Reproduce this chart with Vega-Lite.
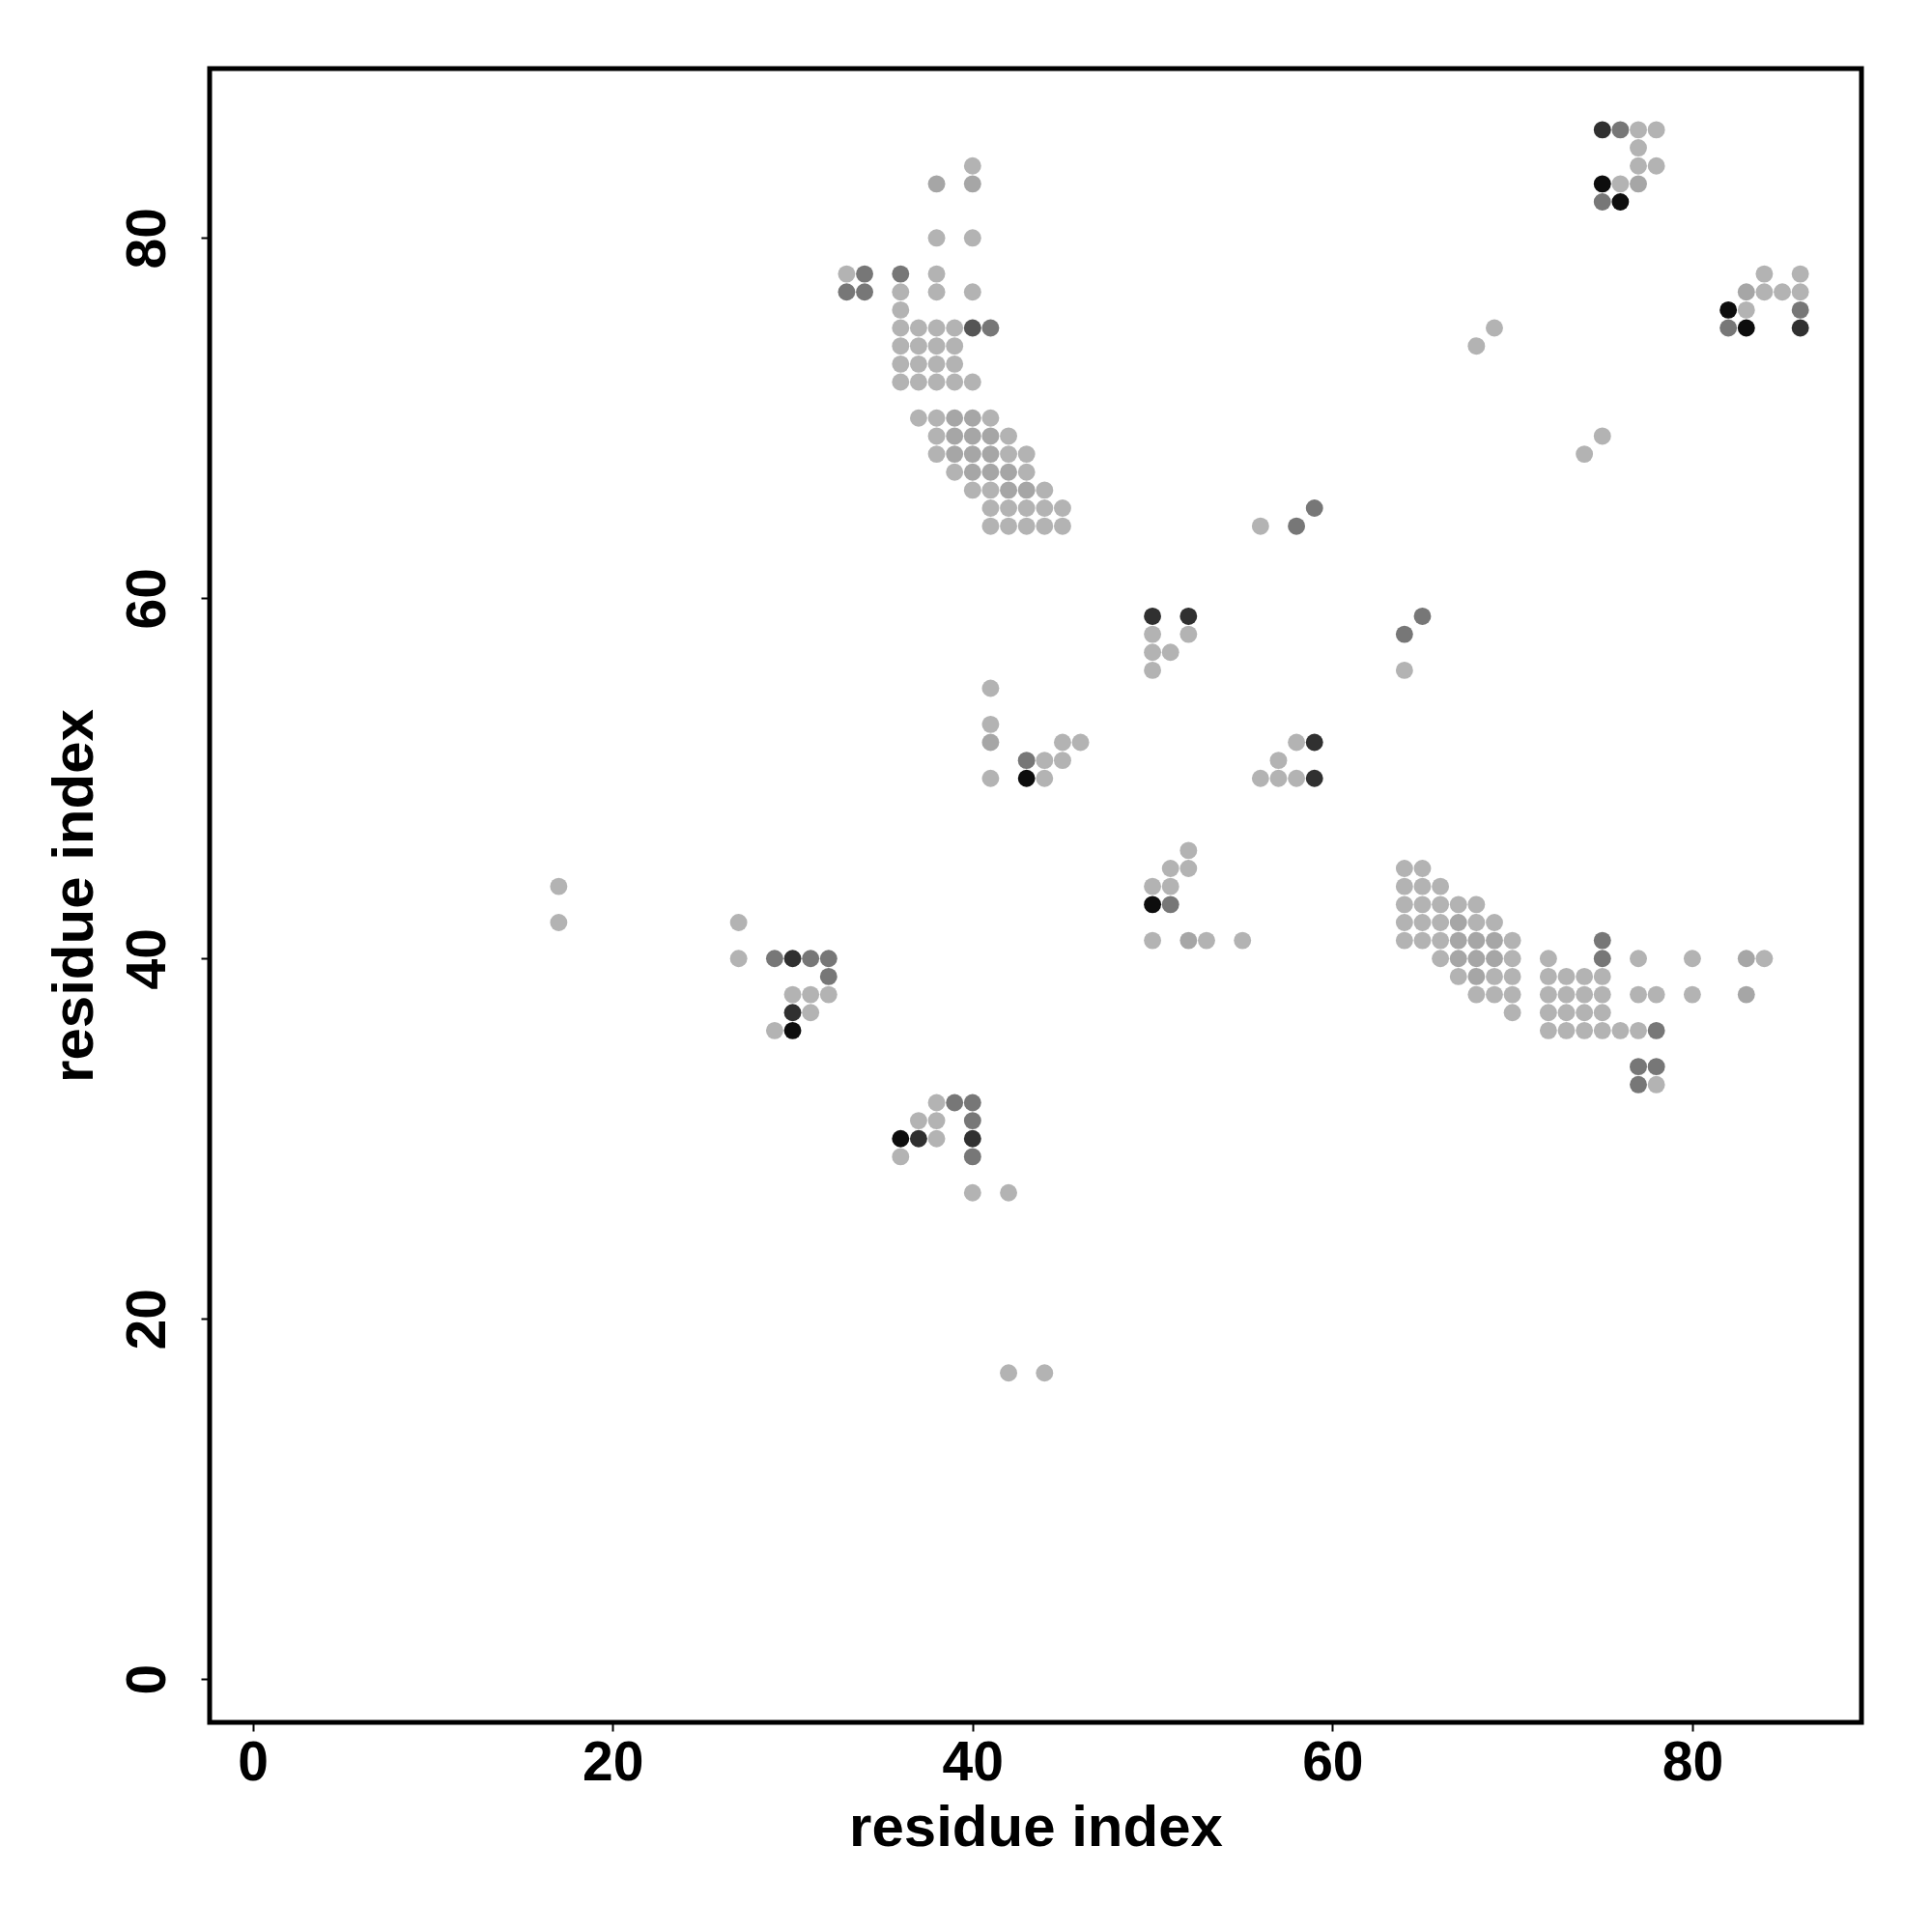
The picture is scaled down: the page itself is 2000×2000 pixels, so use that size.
{
  "$schema": "https://vega.github.io/schema/vega-lite/v6.json",
  "autosize": {"type": "none"},
  "padding": {"left": 217, "top": 71, "right": 73, "bottom": 217},
  "width": 1710,
  "height": 1712,
  "background": "white",
  "config": {
    "view": {"stroke": "black", "strokeWidth": 5, "fill": "white"},
    "axis": {
      "grid": false,
      "domain": false,
      "tickColor": "black",
      "tickWidth": 2,
      "tickSize": 9,
      "labelFont": "Liberation Sans",
      "labelFontWeight": "bold",
      "labelFontSize": 57,
      "labelColor": "black",
      "titleFont": "Liberation Sans",
      "titleFontWeight": "bold",
      "titleFontSize": 60,
      "titleColor": "black"
    }
  },
  "data": {
    "values": [
      {"x":40,"y":84,"s":1},
      {"x":38,"y":83,"s":2},{"x":40,"y":83,"s":2},
      {"x":38,"y":80,"s":1},{"x":40,"y":80,"s":1},
      {"x":33,"y":78,"s":1},{"x":34,"y":78,"s":3},{"x":36,"y":78,"s":3},{"x":38,"y":78,"s":1},
      {"x":33,"y":77,"s":3},{"x":34,"y":77,"s":3},{"x":36,"y":77,"s":1},{"x":38,"y":77,"s":1},{"x":40,"y":77,"s":1},
      {"x":36,"y":76,"s":1},
      {"x":36,"y":75,"s":1},{"x":37,"y":75,"s":1},{"x":38,"y":75,"s":1},{"x":39,"y":75,"s":1},{"x":40,"y":75,"s":4},{"x":41,"y":75,"s":3},
      {"x":36,"y":74,"s":1},{"x":37,"y":74,"s":1},{"x":38,"y":74,"s":1},{"x":39,"y":74,"s":1},
      {"x":36,"y":73,"s":1},{"x":37,"y":73,"s":1},{"x":38,"y":73,"s":1},{"x":39,"y":73,"s":1},
      {"x":36,"y":72,"s":1},{"x":37,"y":72,"s":1},{"x":38,"y":72,"s":1},{"x":39,"y":72,"s":1},{"x":40,"y":72,"s":1},
      {"x":37,"y":70,"s":1},{"x":38,"y":70,"s":1},{"x":39,"y":70,"s":2},{"x":40,"y":70,"s":2},{"x":41,"y":70,"s":1},
      {"x":38,"y":69,"s":1},{"x":39,"y":69,"s":2},{"x":40,"y":69,"s":2},{"x":41,"y":69,"s":2},{"x":42,"y":69,"s":1},
      {"x":38,"y":68,"s":1},{"x":39,"y":68,"s":2},{"x":40,"y":68,"s":2},{"x":41,"y":68,"s":2},{"x":42,"y":68,"s":1},{"x":43,"y":68,"s":1},
      {"x":39,"y":67,"s":1},{"x":40,"y":67,"s":2},{"x":41,"y":67,"s":2},{"x":42,"y":67,"s":2},{"x":43,"y":67,"s":1},
      {"x":40,"y":66,"s":1},{"x":41,"y":66,"s":1},{"x":42,"y":66,"s":2},{"x":43,"y":66,"s":2},{"x":44,"y":66,"s":1},
      {"x":41,"y":65,"s":1},{"x":42,"y":65,"s":1},{"x":43,"y":65,"s":1},{"x":44,"y":65,"s":1},{"x":45,"y":65,"s":1},
      {"x":41,"y":64,"s":1},{"x":42,"y":64,"s":1},{"x":43,"y":64,"s":1},{"x":44,"y":64,"s":1},{"x":45,"y":64,"s":1},
      {"x":75,"y":86,"s":5},{"x":76,"y":86,"s":3},{"x":77,"y":86,"s":1},{"x":78,"y":86,"s":1},
      {"x":77,"y":85,"s":1},
      {"x":77,"y":84,"s":1},{"x":78,"y":84,"s":1},
      {"x":75,"y":83,"s":6},{"x":76,"y":83,"s":1},{"x":77,"y":83,"s":2},
      {"x":75,"y":82,"s":3},{"x":76,"y":82,"s":6},
      {"x":84,"y":78,"s":1},{"x":86,"y":78,"s":1},
      {"x":83,"y":77,"s":2},{"x":84,"y":77,"s":1},{"x":85,"y":77,"s":1},{"x":86,"y":77,"s":1},
      {"x":82,"y":76,"s":6},{"x":83,"y":76,"s":1},{"x":86,"y":76,"s":3},
      {"x":82,"y":75,"s":3},{"x":83,"y":75,"s":6},{"x":86,"y":75,"s":5},
      {"x":68,"y":74,"s":1},{"x":69,"y":75,"s":1},
      {"x":74,"y":68,"s":1},{"x":75,"y":69,"s":1},
      {"x":56,"y":64,"s":1},{"x":58,"y":64,"s":3},{"x":59,"y":65,"s":3},
      {"x":50,"y":59,"s":5},{"x":52,"y":59,"s":5},
      {"x":50,"y":58,"s":1},{"x":52,"y":58,"s":1},
      {"x":50,"y":57,"s":1},{"x":51,"y":57,"s":1},
      {"x":50,"y":56,"s":1},
      {"x":64,"y":58,"s":3},{"x":65,"y":59,"s":3},{"x":64,"y":56,"s":1},
      {"x":58,"y":52,"s":1},{"x":59,"y":52,"s":5},
      {"x":57,"y":51,"s":1},
      {"x":56,"y":50,"s":1},{"x":57,"y":50,"s":1},{"x":58,"y":50,"s":1},{"x":59,"y":50,"s":5},
      {"x":41,"y":55,"s":1},{"x":41,"y":53,"s":1},{"x":41,"y":52,"s":2},
      {"x":43,"y":51,"s":3},{"x":44,"y":51,"s":1},{"x":45,"y":51,"s":1},
      {"x":45,"y":52,"s":1},{"x":46,"y":52,"s":1},
      {"x":41,"y":50,"s":1},{"x":43,"y":50,"s":6},{"x":44,"y":50,"s":1},
      {"x":52,"y":46,"s":1},
      {"x":51,"y":45,"s":1},{"x":52,"y":45,"s":1},
      {"x":50,"y":44,"s":1},{"x":51,"y":44,"s":1},
      {"x":50,"y":43,"s":6},{"x":51,"y":43,"s":3},
      {"x":50,"y":41,"s":1},{"x":52,"y":41,"s":2},{"x":53,"y":41,"s":1},{"x":55,"y":41,"s":1},
      {"x":64,"y":45,"s":1},{"x":65,"y":45,"s":1},
      {"x":64,"y":44,"s":1},{"x":65,"y":44,"s":1},{"x":66,"y":44,"s":1},
      {"x":64,"y":43,"s":1},{"x":65,"y":43,"s":1},{"x":66,"y":43,"s":1},{"x":67,"y":43,"s":1},{"x":68,"y":43,"s":1},
      {"x":64,"y":42,"s":1},{"x":65,"y":42,"s":1},{"x":66,"y":42,"s":1},{"x":67,"y":42,"s":2},{"x":68,"y":42,"s":1},{"x":69,"y":42,"s":1},
      {"x":64,"y":41,"s":1},{"x":65,"y":41,"s":1},{"x":66,"y":41,"s":1},{"x":67,"y":41,"s":2},{"x":68,"y":41,"s":2},{"x":69,"y":41,"s":2},{"x":70,"y":41,"s":1},
      {"x":75,"y":41,"s":3},
      {"x":66,"y":40,"s":1},{"x":67,"y":40,"s":2},{"x":68,"y":40,"s":2},{"x":69,"y":40,"s":2},{"x":70,"y":40,"s":1},
      {"x":72,"y":40,"s":1},{"x":75,"y":40,"s":3},{"x":77,"y":40,"s":1},{"x":80,"y":40,"s":1},{"x":83,"y":40,"s":2},{"x":84,"y":40,"s":1},
      {"x":67,"y":39,"s":1},{"x":68,"y":39,"s":2},{"x":69,"y":39,"s":1},{"x":70,"y":39,"s":1},
      {"x":72,"y":39,"s":1},{"x":73,"y":39,"s":1},{"x":74,"y":39,"s":1},{"x":75,"y":39,"s":1},
      {"x":68,"y":38,"s":1},{"x":69,"y":38,"s":1},{"x":70,"y":38,"s":1},
      {"x":72,"y":38,"s":1},{"x":73,"y":38,"s":1},{"x":74,"y":38,"s":1},{"x":75,"y":38,"s":1},
      {"x":77,"y":38,"s":1},{"x":78,"y":38,"s":1},{"x":80,"y":38,"s":1},{"x":83,"y":38,"s":2},
      {"x":70,"y":37,"s":1},
      {"x":72,"y":37,"s":1},{"x":73,"y":37,"s":1},{"x":74,"y":37,"s":1},{"x":75,"y":37,"s":1},
      {"x":72,"y":36,"s":1},{"x":73,"y":36,"s":1},{"x":74,"y":36,"s":1},{"x":75,"y":36,"s":1},{"x":76,"y":36,"s":1},{"x":77,"y":36,"s":1},{"x":78,"y":36,"s":3},
      {"x":77,"y":34,"s":3},{"x":78,"y":34,"s":3},
      {"x":77,"y":33,"s":3},{"x":78,"y":33,"s":1},
      {"x":17,"y":44,"s":1},{"x":17,"y":42,"s":1},
      {"x":27,"y":42,"s":1},{"x":27,"y":40,"s":1},
      {"x":29,"y":40,"s":3},{"x":30,"y":40,"s":5},{"x":31,"y":40,"s":3},{"x":32,"y":40,"s":3},
      {"x":32,"y":39,"s":3},
      {"x":30,"y":38,"s":1},{"x":31,"y":38,"s":1},{"x":32,"y":38,"s":1},
      {"x":30,"y":37,"s":5},{"x":31,"y":37,"s":1},
      {"x":29,"y":36,"s":1},{"x":30,"y":36,"s":6},
      {"x":38,"y":32,"s":1},{"x":39,"y":32,"s":3},{"x":40,"y":32,"s":3},
      {"x":37,"y":31,"s":1},{"x":38,"y":31,"s":1},{"x":40,"y":31,"s":3},
      {"x":36,"y":30,"s":6},{"x":37,"y":30,"s":5},{"x":38,"y":30,"s":1},{"x":40,"y":30,"s":5},
      {"x":36,"y":29,"s":1},{"x":40,"y":29,"s":3},
      {"x":40,"y":27,"s":1},{"x":42,"y":27,"s":1},
      {"x":42,"y":17,"s":1},{"x":44,"y":17,"s":1}
    ]
  },
  "mark": {"type": "circle", "size": 320, "opacity": 1, "strokeWidth": 0},
  "encoding": {
    "x": {
      "field": "x",
      "type": "quantitative",
      "scale": {"domain": [-2.4, 89.4], "nice": false, "zero": false},
      "axis": {"values": [0, 20, 40, 60, 80], "labelPadding": 5, "title": "residue index", "titlePadding": 10, "labelFlush": false}
    },
    "y": {
      "field": "y",
      "type": "quantitative",
      "scale": {"domain": [-2.4, 89.4], "nice": false, "zero": false},
      "axis": {"values": [0, 20, 40, 60, 80], "labelAngle": -90, "labelAlign": "center", "labelBaseline": "alphabetic", "labelPadding": 38, "title": "residue index", "titlePadding": 16, "labelFlush": false}
    },
    "color": {
      "field": "s",
      "type": "ordinal",
      "scale": {"domain": [1, 2, 3, 4, 5, 6], "range": ["#b3b3b3", "#a6a6a6", "#777777", "#555555", "#303030", "#0d0d0d"]},
      "legend": null
    }
  }
}
